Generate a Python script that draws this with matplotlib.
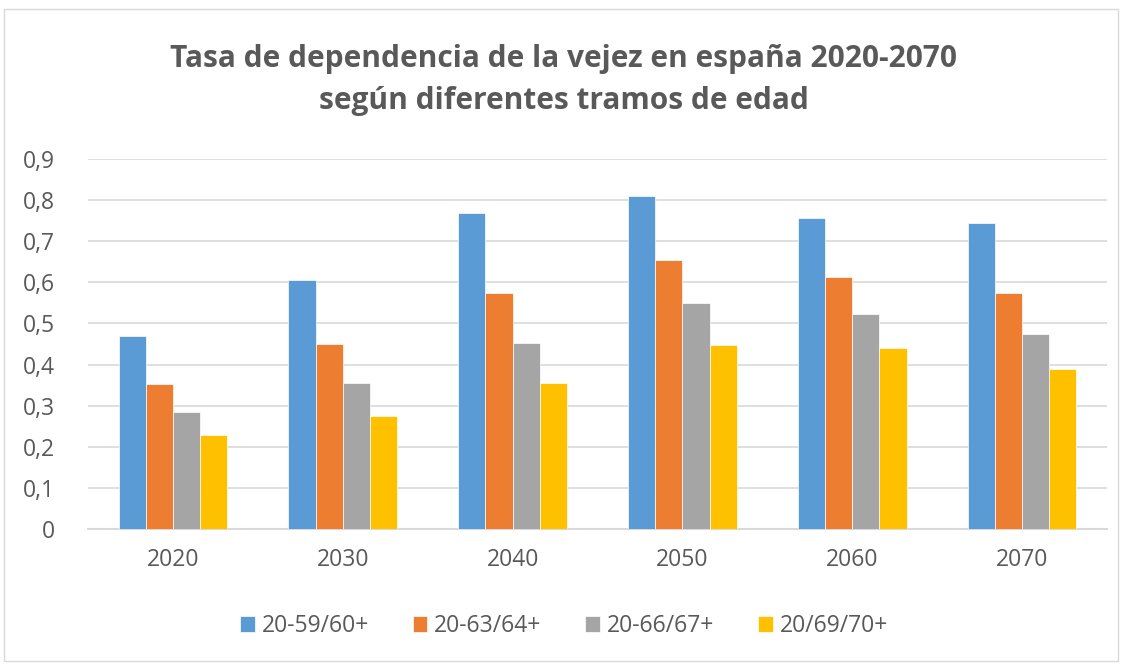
import matplotlib.pyplot as plt
import numpy as np
from matplotlib.patches import Rectangle

years = ["2020", "2030", "2040", "2050", "2060", "2070"]
series_names = ["20-59/60+", "20-63/64+", "20-66/67+", "20/69/70+"]
s_60 = [0.469, 0.606, 0.769, 0.809, 0.757, 0.744]
s_64 = [0.352, 0.449, 0.573, 0.654, 0.613, 0.573]
s_67 = [0.285, 0.354, 0.453, 0.549, 0.524, 0.474]
s_70 = [0.228, 0.276, 0.354, 0.447, 0.440, 0.390]
colors = ["#5B9BD5", "#ED7D31", "#A5A5A5", "#FFC000"]
yticks = [0, 0.1, 0.2, 0.3, 0.4, 0.5, 0.6, 0.7, 0.8, 0.9]
ytick_labels = ["0", "0,1", "0,2", "0,3", "0,4", "0,5", "0,6", "0,7", "0,8", "0,9"]

plt.rcParams['font.family'] = ['Open Sans', 'DejaVu Sans']
text_color = "#595959"

fig = plt.figure(figsize=(11.28, 6.65), dpi=100)
W, H = 1128, 665
ax = fig.add_axes([88 / W, 1 - 529 / H, (1107 - 88) / W, (529 - 159) / H])

# chart border
fig.patches.append(Rectangle((4 / W, 1 - 661 / H), 1114 / W, 652 / H, transform=fig.transFigure,
                             fill=False, edgecolor="#D9D9D9", linewidth=1))

x = np.arange(len(years))
bw = 0.16
all_series = [s_60, s_64, s_67, s_70]
for i, (vals, name, c) in enumerate(zip(all_series, series_names, colors)):
    ax.bar(x + (i - 1.5) * bw, vals, bw, color=c, label=name, zorder=3,
           edgecolor="white", linewidth=0.5)

ax.set_xlim(-0.5, len(years) - 0.5)
ax.set_ylim(0, 0.9)
ax.set_yticks(yticks)
ax.set_yticklabels(ytick_labels)
ax.set_xticks(x)
ax.set_xticklabels(years)
ax.yaxis.grid(True, color="#D9D9D9", linewidth=1.2, zorder=0)
ax.tick_params(axis="both", length=0, labelsize=16.5, colors=text_color)
ax.tick_params(axis="x", pad=14)
ax.tick_params(axis="y", pad=24)
for side in ["top", "right", "left"]:
    ax.spines[side].set_visible(False)
ax.spines["bottom"].set_color("#D9D9D9")
ax.spines["bottom"].set_linewidth(1.5)

fig.text(0.5, 1 - 80 / H, "Tasa de dependencia de la vejez en españa 2020-2070\nsegún diferentes tramos de edad",
         ha="center", va="center", fontsize=21.5, fontweight="bold", color=text_color, linespacing=1.5)

leg = fig.legend(loc="center", bbox_to_anchor=(0.5, 1 - 626 / H), ncol=4, frameon=False,
                 fontsize=16.5, handlelength=0.65, handleheight=0.65, handletextpad=0.3, columnspacing=1.9)
for t in leg.get_texts():
    t.set_color(text_color)

fig.savefig("out.png", dpi=100)
